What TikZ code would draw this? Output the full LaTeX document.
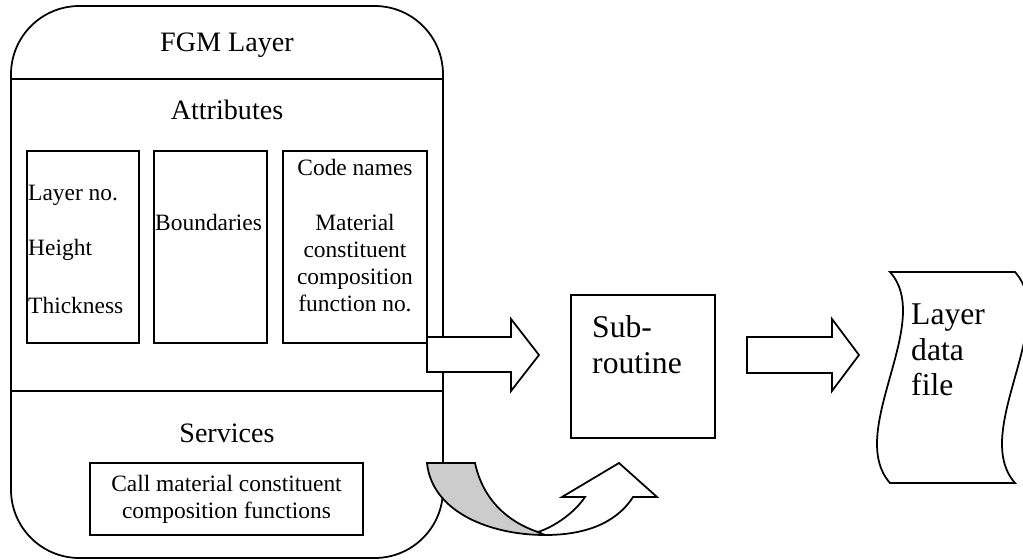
\documentclass[tikz,border=0pt]{standalone}
\usepackage{fontspec}
\setmainfont{Liberation Serif}
\usetikzlibrary{positioning}
\tikzset{
  box/.style={draw,line width=1.5pt,fill=white,inner sep=0pt},
  txt/.style={inner sep=0pt,font=\fontsize{20pt}{23pt}\selectfont},
  head/.style={inner sep=0pt,font=\fontsize{24pt}{28pt}\selectfont},
  bigtxt/.style={inner sep=0pt,align=left,font=\fontsize{27pt}{30.5pt}\selectfont},
  blockarrow/.style={draw,line width=1.5pt,fill=white,line join=miter},
}
\begin{document}
\begin{tikzpicture}[x=0.03cm,y=-0.03cm]
  \useasboundingbox (0,0) rectangle (1023,560);
  % the layer object
  \draw[line width=1.5pt,rounded corners=2.05cm] (11,6) rectangle (443,558);
  \draw[line width=1.5pt] (11,79) -- (443,79);
  \draw[line width=1.5pt] (11,391) -- (443,391);
  \node[head] (title) at (227,45) {FGM Layer};
  \node[head] (attr) at (227,110) {Attributes};
  \node[head] (serv) at (227,433) {Services};

  % attribute boxes
  \node[box,minimum width=3.36cm,minimum height=5.76cm] (ids) at (83,247) {};
  \node[box,minimum width=3.39cm,minimum height=5.76cm] (bnd) at (210.5,247) {};
  \node[box,minimum width=4.32cm,minimum height=5.76cm] (codes) at (355,247) {};
  \node[txt,anchor=west] (layerno) at (28,195) {Layer no.};
  \node[txt,anchor=west] (height) at (28,250) {Height};
  \node[txt,anchor=west] (thick) at (28,305) {Thickness};
  \node[txt,anchor=west] (bounds) at (155,222) {Boundaries};
  \node[txt] (codename) at (355,167) {Code names};
  \node[txt,align=center] (matfn) at (355,263) {Material\\constituent\\composition\\function no.};

  % services
  \node[box,txt,align=center,minimum width=8.19cm,minimum height=2.16cm] (call) at (226.5,499)
    {Call material constituent\\composition functions};

  % subroutine and file
  \node[box,minimum width=4.32cm,minimum height=4.29cm] (sub) at (643,366.5) {};
  \node[bigtxt,anchor=west] (subtxt) at (592,344.5) {Sub-\\routine};
  \draw[line width=1.5pt,fill=white] (890,272) -- (1015,272)
    .. controls (1060,322) and (970,432) .. (1015,483) -- (890,483)
    .. controls (845,432) and (935,322) .. (890,272) -- cycle;
  \node[bigtxt,anchor=west] (file) at (911,350) {Layer\\data\\file};

  % block arrows
  \draw[blockarrow] (427,337) -- (511,337) -- (511,319) -- (539,355) -- (511,391) -- (511,372) -- (427,372) -- cycle;
  \draw[blockarrow] (747,337) -- (832,337) -- (832,319) -- (859,355) -- (832,391) -- (832,373) -- (747,373) -- cycle;

  % curved arrow
  \draw[line width=1.5pt,fill=black!20] (427,463) -- (475,463)
    .. controls (483,500) and (508,522) .. (538,532) -- (545,535)
    .. controls (490,535) and (432,512) .. (427,463) -- cycle;
  \draw[blockarrow] (538,532) .. controls (556,526) and (575,512) .. (585,497)
    -- (562,497) -- (619,463) -- (657,497) -- (633,497)
    .. controls (615,525) and (582,535) .. (545,535) -- cycle;
\end{tikzpicture}
\end{document}
